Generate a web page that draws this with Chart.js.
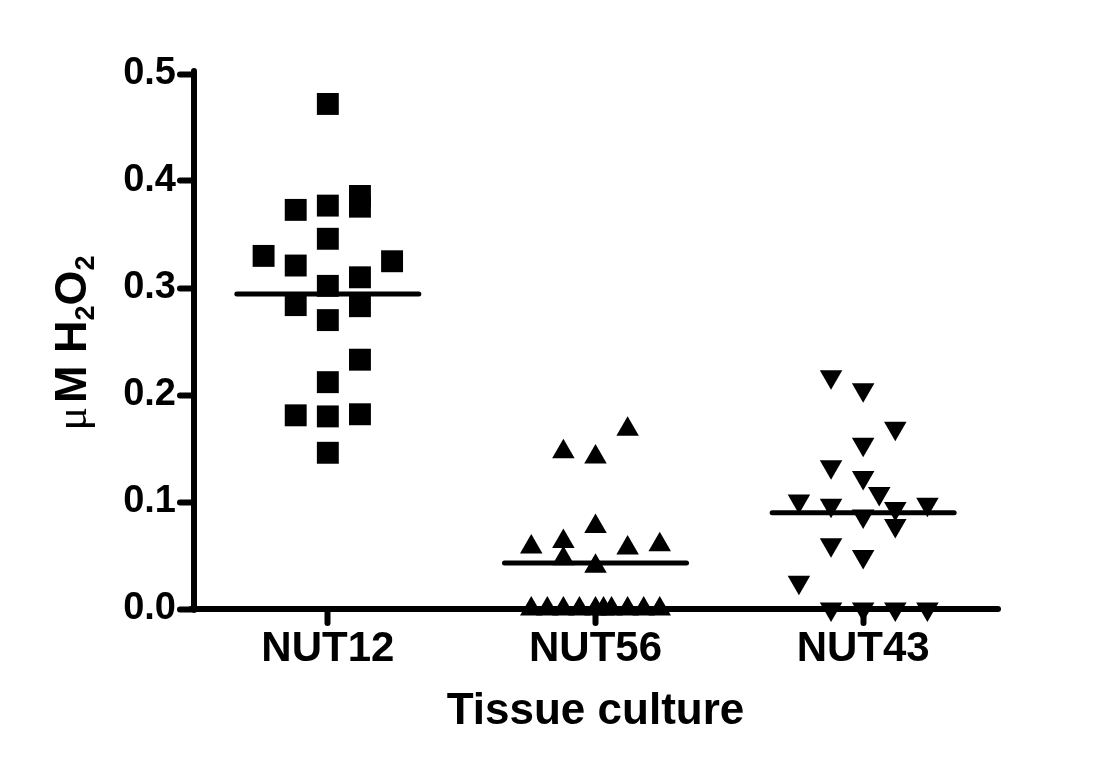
<!DOCTYPE html>
<html>
<head>
<meta charset="utf-8">
<script src="https://cdn.jsdelivr.net/npm/chart.js@4/dist/chart.umd.min.js"></script>
<style>
  body { margin: 0; background: #fff; }
  #wrap { width: 1108px; height: 769px; }
</style>
</head>
<body>
<div id="wrap"><canvas id="myCanvas"></canvas></div>
<script>
var categories = ['NUT12', 'NUT56', 'NUT43'];
var yTicks = [0.0, 0.1, 0.2, 0.3, 0.4, 0.5];

// values, with the column (jitter step) each point sits in
var nut12 = [0.472, 0.373, 0.377, 0.386, 0.376, 0.346, 0.330, 0.321, 0.325, 0.310,
             0.302, 0.284, 0.283, 0.270, 0.233, 0.212, 0.181, 0.180, 0.182, 0.146];
var nut12Col = [0, -2, 0, 2, 2, 0, -4, -2, 4, 2,
                0, -2, 2, 0, 2, 0, -2, 0, 2, 0];

var nut56 = [0.168, 0.147, 0.142, 0.077, 0.058, 0.063, 0.057, 0.060, 0.047, 0.040,
             0, 0, 0, 0, 0, 0, 0, 0, 0, 0];
var nut56Col = [2, -2, 0, 0, -4, -2, 2, 4, -2, 0,
                -4, -3, -2, -1, 0, 0.5, 1, 2, 3, 4];

var nut43 = [0.217, 0.205, 0.169, 0.154, 0.133, 0.123, 0.108, 0.101, 0.097, 0.094,
             0.098, 0.087, 0.078, 0.060, 0.049, 0.025, 0, 0, 0, 0];
var nut43Col = [-2, 0, 2, 0, -2, 0, 1, -4, -2, 2,
                4, 0, 2, -2, 0, -4, -2, 0, 2, 4];

var groups = [nut12, nut56, nut43];
var groupCols = [nut12Col, nut56Col, nut43Col];
var styles = [
    { pointStyle: 'rect', radius: 15.5, rotation: 0 },
    { pointStyle: 'triangle', radius: 13, rotation: 0 },
    { pointStyle: 'triangle', radius: 13, rotation: 180 }
];

var colStep = 0.06;   // one jitter step in category units
var meanHalf = 0.34;  // half length of the mean bar

function mean(arr) {
    var s = 0;
    for (var i = 0; i < arr.length; i++) s += arr[i];
    return s / arr.length;
}

var datasets = [];
for (var g = 0; g < groups.length; g++) {
    var pts = [];
    for (var i = 0; i < groups[g].length; i++) {
        pts.push({ x: g + 1 + groupCols[g][i] * colStep, y: groups[g][i] });
    }
    datasets.push({
        data: pts,
        pointStyle: styles[g].pointStyle,
        pointRadius: styles[g].radius,
        pointRotation: styles[g].rotation,
        pointBackgroundColor: '#000',
        pointBorderWidth: 0,
        showLine: false,
        clip: false
    });
    var m = mean(groups[g]);
    datasets.push({
        data: [{ x: g + 1 - meanHalf, y: m }, { x: g + 1 + meanHalf, y: m }],
        showLine: true,
        borderColor: '#000',
        borderWidth: 5,
        borderCapStyle: 'round',
        pointRadius: 0,
        clip: false
    });
}

// y title with real subscripts
var yTitle = {
    id: 'yTitle',
    beforeDraw: function (chart) {
        chart.ctx.lineCap = 'round';
    },
    afterDraw: function (chart) {
        var ctx = chart.ctx;
        var parts = [
            { t: '\u03bc', f: '44px "Liberation Serif"', dy: 0, gap: 4 },
            { t: 'M H', f: 'bold 45px "Liberation Sans"', dy: 0, gap: 0 },
            { t: '2', f: 'bold 27px "Liberation Sans"', dy: 8, gap: 0 },
            { t: 'O', f: 'bold 45px "Liberation Sans"', dy: 0, gap: 0 },
            { t: '2', f: 'bold 27px "Liberation Sans"', dy: 8, gap: 0 }
        ];
        ctx.save();
        ctx.translate(86, 343);
        ctx.rotate(-Math.PI / 2);
        ctx.fillStyle = '#000';
        ctx.textBaseline = 'alphabetic';
        ctx.textAlign = 'left';
        var total = 0;
        parts.forEach(function (p) { ctx.font = p.f; p.w = ctx.measureText(p.t).width + p.gap; total += p.w; });
        var x = -total / 2;
        parts.forEach(function (p) { ctx.font = p.f; ctx.fillText(p.t, x, p.dy); x += p.w; });
        ctx.restore();
    }
};

var context = document.getElementById('myCanvas').getContext('2d');
var myChart = new Chart(context, {
    type: 'scatter',
    data: { datasets: datasets },
    plugins: [yTitle],
    options: {
        responsive: true,
        maintainAspectRatio: false,
        animation: false,
        layout: { padding: { left: 0, right: 111, top: 74, bottom: 0 } },
        plugins: { legend: { display: false }, tooltip: { enabled: false } },
        scales: {
            x: {
                type: 'linear',
                min: 0.5,
                max: 3.5,
                afterBuildTicks: function (scale) {
                    scale.ticks = categories.map(function (c, i) { return { value: i + 1 }; });
                },
                afterFit: function (scale) { scale.height = 160; },
                grid: { drawOnChartArea: false, drawTicks: true, tickLength: 14, tickWidth: 6, tickColor: '#000', color: '#000' },
                border: { display: true, width: 6, color: '#000' },
                ticks: {
                    color: '#000',
                    padding: 1,
                    font: { family: '"Liberation Sans", Arial, sans-serif', size: 42, weight: 'bold' },
                    callback: function (v) { return categories[Math.round(v) - 1]; }
                },
                title: {
                    display: true,
                    text: 'Tissue culture',
                    color: '#000',
                    padding: { top: 0, bottom: 31 },
                    font: { family: '"Liberation Sans", Arial, sans-serif', size: 44, weight: 'bold' }
                }
            },
            y: {
                min: 0,
                max: 0.5,
                afterBuildTicks: function (scale) {
                    scale.ticks = yTicks.map(function (v) { return { value: v }; });
                },
                afterFit: function (scale) { scale.width = 194; },
                grid: { drawOnChartArea: false, drawTicks: true, tickLength: 14, tickWidth: 6, tickColor: '#000', color: '#000' },
                border: { display: true, width: 6, color: '#000' },
                ticks: {
                    color: '#000',
                    padding: 4,
                    font: { family: '"Liberation Sans", Arial, sans-serif', size: 38, weight: 'bold' },
                    callback: function (v) { return v.toFixed(1); }
                },
                title: { display: false }
            }
        }
    }
});
</script>
</body>
</html>
